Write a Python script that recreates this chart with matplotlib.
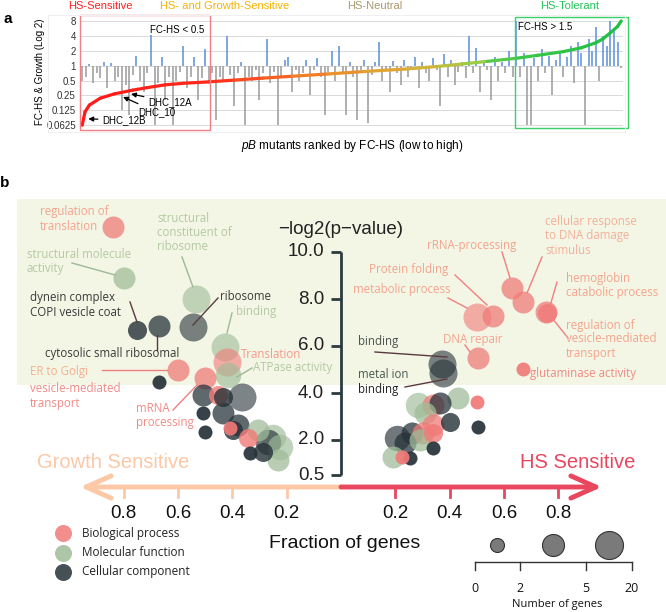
import numpy as np
import matplotlib
matplotlib.use('Agg')
import matplotlib.pyplot as plt
from matplotlib.collections import LineCollection
from matplotlib.colors import LinearSegmentedColormap
from matplotlib.patches import Rectangle
import matplotlib.transforms as mtransforms

plt.rcParams['font.family'] = ['Liberation Sans', 'DejaVu Sans']
plt.rcParams['mathtext.fontset'] = 'custom'
plt.rcParams['mathtext.it'] = 'Liberation Sans:italic'
plt.rcParams['mathtext.rm'] = 'Liberation Sans'

W, H = 666, 612

# ── panel a data: growth per ranked mutant (FC growth) and FC-HS curve ──
growth = [
    0.5, 0.6, 1.1, 0.45, 0.7, 0.55, 1.2, 0.35, 1.15, 0.5,
    0.6, 0.125, 0.4, 0.1, 0.65, 1.6, 0.5, 0.3, 0.7, 4.2,
    0.0625, 0.45, 1.5, 0.2, 0.6, 0.0625, 0.5, 0.75, 2.5, 0.35,
    0.6, 1.5, 0.2, 0.55, 2.2, 0.45, 0.7, 0.08, 0.6, 0.5,
    4.0, 0.65, 0.15, 0.7, 1.2, 0.0625, 0.6, 0.5, 0.8, 0.2,
    0.7, 3.5, 0.45, 0.75, 0.0625, 0.6, 1.3, 1.5, 0.3, 0.8,
    0.5, 0.7, 1.3, 0.25, 0.8, 1.4, 0.6, 0.1, 0.75, 2.0,
    0.5, 2.5, 0.7, 0.1, 1.2, 0.6, 0.08, 0.8, 1.3, 0.07,
    0.65, 1.2, 3.0, 0.5, 0.85, 0.3, 1.25, 0.7, 0.4, 1.3,
    0.6, 0.8, 1.5, 0.35, 1.2, 0.7, 0.5, 1.4, 0.8, 0.15,
    1.7, 0.6, 1.3, 0.4, 0.75, 1.2, 0.55, 4.0, 0.7, 2.3,
    0.3, 1.3, 0.8, 0.2, 1.5, 0.5, 1.2, 0.7, 2.0, 0.6,
    8.0, 0.6, 1.8, 0.0625, 0.0625, 1.4, 0.5, 2.2, 0.7, 1.6,
    0.25, 1.3, 2.0, 0.6, 1.5, 2.5, 0.45, 3.0, 1.8, 0.0625,
    3.5, 2.0, 6.0, 0.5, 4.0, 2.5, 8.0, 5.0, 3.0, 0.9,
]
curve_rank = [0, 0.8, 2, 5, 9, 14, 18, 23, 28, 35, 42, 50, 58, 68, 78, 90,
              98, 105, 112, 120, 126, 133, 138, 142, 144, 146, 148, 149]
curve_fc = [0.0625, 0.117, 0.16, 0.22, 0.27, 0.32, 0.36, 0.41, 0.44, 0.47,
            0.51, 0.56, 0.61, 0.68, 0.76, 0.86, 0.96, 1.08, 1.22, 1.41,
            1.62, 1.92, 2.3, 2.9, 3.5, 4.6, 6.2, 8.0]
fc_ticks = [0.0625, 0.125, 0.25, 0.5, 1, 2, 4, 8]
fc_ticklabels = ['0.0625', '0.125', '0.25', '0.5', '1', '2', '4', '8']
dhc_names = ['DHC_12B', 'DHC_10', 'DHC_12A']
dhc_rank = [1.7, 11.3, 13.5]
dhc_fc = [0.084, 0.233, 0.268]

# ── panel b data: GO terms (signed fraction: <0 growth, >0 HS) ──
go_cat = ['bio', 'mol', 'mol', 'cell', 'cell', 'cell', 'mol', 'bio', 'mol', 'bio',
          'cell', 'bio', 'cell', 'bio', 'cell', 'cell', 'cell', 'cell', 'cell', 'bio',
          'cell', 'cell', 'bio', 'mol', 'mol', 'cell', 'cell', 'mol', 'cell', 'mol',
          'bio', 'bio', 'bio', 'bio', 'bio', 'bio', 'bio', 'bio', 'cell', 'cell',
          'mol', 'mol', 'bio', 'cell', 'bio', 'mol', 'bio', 'cell', 'cell', 'cell',
          'cell', 'bio', 'bio', 'cell', 'mol', 'cell', 'cell', 'bio', 'mol']
go_frac = [-0.84, -0.80, -0.534, -0.545, -0.751, -0.67, -0.427, -0.42, -0.416, -0.60,
           -0.67, -0.50, -0.508, -0.453, -0.434, -0.364, -0.508, -0.434, -0.50, -0.408,
           -0.379, -0.397, -0.342, -0.305, -0.25, -0.269, -0.335, -0.232, -0.287, -0.225,
           0.629, 0.67, 0.754, 0.76, 0.50, 0.56, 0.505, 0.67, 0.372, 0.375,
           0.283, 0.43, 0.339, 0.364, 0.50, 0.309, 0.339, 0.40, 0.504, 0.206,
           0.261, 0.302, 0.339, 0.236, 0.191, 0.254, 0.339, 0.225, 0.29]
go_logp = [11.06, 8.89, 8.00, 6.81, 6.68, 6.85, 5.96, 5.32, 4.77, 4.98,
           4.47, 4.64, 3.91, 3.91, 3.83, 3.83, 3.15, 3.15, 2.34, 2.51,
           2.64, 2.43, 2.09, 2.43, 2.13, 1.91, 1.45, 1.15, 1.49, 1.70,
           8.47, 7.87, 7.45, 7.40, 7.23, 7.28, 5.49, 5.02, 5.23, 4.85,
           3.49, 3.79, 3.49, 3.57, 3.62, 3.15, 2.64, 2.77, 2.55, 2.09,
           2.30, 2.30, 2.30, 1.87, 1.28, 1.23, 1.66, 1.28, 2.00]
go_ngenes = [3, 3, 10, 10, 2, 3, 10, 10, 6, 3,
             1, 3, 3, 2, 2, 10, 1, 3, 1, 1,
             3, 2, 2, 3, 6, 6, 1, 3, 2, 6,
             3, 3, 3, 2, 10, 3, 3, 1, 10, 10,
             6, 3, 3, 3, 1, 3, 3, 2, 1, 6,
             3, 3, 2, 3, 3, 1, 1, 1, 3]
p_ticks = [0.5, 2, 4, 6, 8, 10]
frac_ticks = [0.2, 0.4, 0.6, 0.8]
legend_cats = ['Biological process', 'Molecular function', 'Cellular component']
size_legend_n = [1, 3, 10]
size_scale_labels = ['0', '2', '5', '20']

cat_color = {'bio': '#f07a78', 'mol': '#9fbc98', 'cell': '#263238'}


def radius_px(n):
    return np.interp(np.log(n), np.log([1, 3, 10]), [7, 11, 14])


fig = plt.figure(figsize=(W / 100, H / 100), dpi=100)

# ── Panel a ──
ax_a = fig.add_axes([80 / W, 1 - 130 / H, 543 / W, 115 / H])
ranks = np.arange(len(growth))
g = np.array(growth)
ax_a.vlines(ranks[g < 1], 1, g[g < 1], color='#9a9a9a', lw=1.1)
ax_a.vlines(ranks[g > 1], 1, g[g > 1], color='#5a90dd', lw=1.1)

cmap = LinearSegmentedColormap.from_list('fc', [
    (0, '#ff1a1a'), (0.24, '#ff2a1a'), (0.45, '#f08a2a'), (0.62, '#d8b038'),
    (0.72, '#a8cc40'), (0.8, '#3cc84a'), (1, '#1fbf3f')])
pts = np.column_stack([curve_rank, curve_fc])
segs = np.stack([pts[:-1], pts[1:]], axis=1)
mid = (np.array(curve_rank[:-1]) + np.array(curve_rank[1:])) / 2 / 149
lc = LineCollection(segs, colors=cmap(mid), lw=2.3, capstyle='round', zorder=4)
ax_a.add_collection(lc)

ax_a.set_yscale('log', base=2)
ax_a.set_ylim(2 ** -4.32, 2 ** 3.40)
ax_a.set_xlim(-0.6, 149.5)
ax_a.set_yticks(fc_ticks)
ax_a.set_yticklabels(fc_ticklabels, fontsize=7, color='#333')
ax_a.minorticks_off()
ax_a.set_xticks([])
ax_a.tick_params(axis='y', length=0, pad=3)
ax_a.yaxis.grid(True, color='#d9d9d9', lw=0.7)
ax_a.set_axisbelow(True)
for s in ax_a.spines.values():
    s.set_visible(False)

trans = mtransforms.blended_transform_factory(ax_a.transData, ax_a.transAxes)
ax_a.add_patch(Rectangle((-0.6, 0), 35.8, 1, transform=trans, fill=False,
                         ec='#f07f86', lw=1, clip_on=False, zorder=5))
ax_a.add_patch(Rectangle((119.6, 0.02), 31.3, 0.96, transform=trans, fill=False,
                         ec='#3ccf6a', lw=1, clip_on=False, zorder=5))
fig.patches.append(Rectangle((48 / W, 1 - 132 / H), 577 / W, 117 / H,
                             transform=fig.transFigure, fill=False,
                             ec='#efefef', lw=0.8))

for name, r, v, (tx, ty) in zip(dhc_names, dhc_rank, dhc_fc,
                               [(102, 120), (138, 112), (148, 102)]):
    ax_a.annotate(name, xy=(r, v), xycoords='data', xytext=(tx, H - ty),
                  textcoords='figure pixels', ha='left', va='center', fontsize=7,
                  arrowprops=dict(arrowstyle='-|>', color='black', lw=0.9,
                                  mutation_scale=7, shrinkA=1, shrinkB=0),
                  zorder=6)

fig.text(150 / W, 1 - 30 / H, 'FC-HS < 0.5', fontsize=7, va='center')
fig.text(518 / W, 1 - 27 / H, 'FC-HS > 1.5', fontsize=7, va='center')
for txt, x, c in [('HS-Sensitive', 100, '#ff2020'),
                  ('HS- and Growth-Sensitive', 225, '#f6b400'),
                  ('HS-Neutral', 375, '#a89a6c'),
                  ('HS-Tolerant', 570, '#22c55a')]:
    fig.text(x / W, 1 - 6 / H, txt, color=c, fontsize=8, ha='center', va='center')
fig.text(40 / W, 1 - 72 / H, 'FC-HS & Growth (Log 2)', rotation=90, fontsize=7,
         ha='center', va='center')
fig.text(352 / W, 1 - 146 / H, r'$\it{pB}$ mutants ranked by FC-HS (low to high)',
         fontsize=8.5, ha='center', va='center')
fig.text(8 / W, 1 - 19 / H, 'a', fontsize=11, fontweight='bold', ha='center', va='center')
fig.text(5 / W, 1 - 183 / H, 'b', fontsize=11, fontweight='bold', ha='center', va='center')

# ── Panel b ──
ax_b = fig.add_axes([0, 0, 1, 422 / H])
ax_b.set_xlim(-341 / 271.7, (666 - 341) / 271.7)
ax_b.set_ylim(2 + (440 - 612) / 23.5, 2 + (440 - 190) / 23.5)
ax_b.axis('off')


def bpx(x, y):
    return ((x - 341) / 271.7, 2 + (440 - y) / 23.5)


x0, y0 = bpx(17, 385)
ax_b.add_patch(Rectangle((x0, y0), (666 - 17) / 271.7, (385 - 199) / 23.5,
                         fc='#f3f5e5', ec='none', zorder=0))

# y axis
axc = '#2d3a40'
ax_b.plot([0, 0], [p_ticks[0], p_ticks[-1]], color=axc, lw=2, zorder=2,
          solid_capstyle='butt')
for t in p_ticks:
    ax_b.plot([-0.037, 0], [t, t], color=axc, lw=2, zorder=2, solid_capstyle='butt')
    ax_b.text(-0.062, t, f'{t:.1f}', ha='right', va='center', fontsize=13.5,
              color='#222')
ax_b.text(*bpx(341, 230), '\u2212log2(p\u2212value)', ha='center', va='center',
          fontsize=13.5, color='#222')

# bubbles
r = radius_px(np.array(go_ngenes))
order = np.argsort(-r, kind='stable')
for i in order:
    ax_b.scatter(go_frac[i], go_logp[i], s=(1.44 * r[i]) ** 2,
                 color=cat_color[go_cat[i]], alpha=np.interp(r[i], [7, 14], [0.92, 0.6]),
                 lw=0, zorder=3)

# labels
lab_font = ['Open Sans', 'DejaVu Sans']
pink_l, pink, green_l, dark = '#f4a48e', '#f08a84', '#b5c9a3', '#3a3a3a'
labels = [
    ('regulation of\ntranslation', 40, 219, pink_l),
    ('structural molecule\nactivity', 27, 261.5, green_l),
    ('structural\nconstituent of\nribosome', 157, 233, green_l),
    ('dynein complex\nCOPI vesicle coat', 30, 305, dark),
    ('ribosome', 220, 297, dark),
    ('binding', 236, 312, green_l),
    ('cytosolic small ribosomal', 45, 353, dark),
    ('Translation', 241, 354, '#f59a8a'),
    ('ATPase activity', 253, 368, green_l),
    ('ER to Golgi', 30, 371, '#f6b08f'),
    ('vesicle-mediated\ntransport', 30, 396, pink),
    ('mRNA\nprocessing', 136, 415.5, pink),
    ('cellular response\nto DNA damage\nstimulus', 545, 236, '#f4b09a'),
    ('rRNA-processing', 427, 245, pink_l),
    ('Protein folding', 369, 269, pink_l),
    ('metabolic process', 353, 290, pink_l),
    ('hemoglobin\ncatabolic process', 566, 285.5, pink_l),
    ('regulation of\nvesicle-mediated\ntransport', 566, 339, pink_l),
    ('DNA repair', 443, 339, pink_l),
    ('glutaminase activity', 530, 373, pink),
    ('binding', 358, 342, '#4a5250'),
    ('metal ion', 358, 374, '#4a5a50'),
    ('binding', 358, 390, '#222222'),
]
for txt, x, y, c in labels:
    ax_b.text(*bpx(x, y), txt, ha='left', va='center', fontsize=8.3, color=c,
              family=lab_font, linespacing=1.1, zorder=5)

gl, ml, sl = '#a0b898', '#5a3a40', '#f08080'
leaders = [
    ((72, 263), (115, 275), gl), ((182, 257), (193, 287), gl),
    ((130, 302), (137, 322), ml), ((218, 298), (193, 325), ml),
    ((232, 313), (227, 333), gl), ((157, 350), (157, 335), ml),
    ((252, 368), (237, 377), gl), ((102, 370), (167, 370), sl),
    ((173, 410), (197, 385), sl), ((542, 257), (527, 293), sl),
    ((502, 252), (510, 278), sl), ((455, 275), (487, 305), sl),
    ((448, 298), (467, 308), sl), ((557, 282), (548, 313), sl),
    ((548, 313), (568, 338), sl), ((465, 345), (470, 352), sl),
    ((375, 352), (447, 357), ml), ((405, 387), (447, 379), ml),
]
for p1, p2, c in leaders:
    a, b = bpx(*p1), bpx(*p2)
    ax_b.plot([a[0], b[0]], [a[1], b[1]], color=c, lw=1, zorder=4)

# double arrow (x axis)
peach, red = '#fcc8a6', '#e8475f'
for end, c in [(-0.96, peach), (0.96, red)]:
    ax_b.annotate('', xy=(end, 0), xytext=(0, 0),
                  arrowprops=dict(arrowstyle='->,head_length=0.9,head_width=0.4',
                                  mutation_scale=20, lw=3.5, color=c,
                                  shrinkA=0, shrinkB=0), zorder=2)
for t in frac_ticks:
    for sgn, c in [(-1, peach), (1, red)]:
        ax_b.plot([sgn * t, sgn * t], [0, -0.43], color=c, lw=2, zorder=2)
        ax_b.text(sgn * t, -1.11, f'{t:.1f}', ha='center', va='center',
                  fontsize=13.5, color='#111')
ax_b.text(*bpx(113.5, 463), 'Growth Sensitive', ha='center', va='center',
          fontsize=14.5, color=peach)
ax_b.text(*bpx(578, 463), 'HS Sensitive', ha='center', va='center',
          fontsize=14.5, color=red)
ax_b.text(*bpx(345, 543), 'Fraction of genes', ha='center', va='center',
          fontsize=14, color='#111')

# category legend
for k, (txt, cat) in enumerate(zip(legend_cats, ['bio', 'mol', 'cell'])):
    y = 533 + k * 19.5
    ax_b.scatter(*bpx(63, y), s=(1.44 * 8.5) ** 2, color=cat_color[cat],
                 alpha=0.85, lw=0, zorder=3)
    ax_b.text(*bpx(82, y), txt, ha='left', va='center', fontsize=8.5,
              color='#222', family=lab_font)

# size legend
for n, x in zip(size_legend_n, [497, 553, 609]):
    ax_b.scatter(*bpx(x, 545), s=(1.44 * radius_px(n)) ** 2, color='#7a7a7a',
                 ec='#333333', lw=0.8, zorder=3)
a, b = bpx(475, 562), bpx(632, 562)
ax_b.plot([a[0], b[0]], [a[1], b[1]], color='#333', lw=1)
for lbl, x in zip(size_scale_labels, [475, 520, 586, 632]):
    a, b = bpx(x, 562), bpx(x, 570)
    ax_b.plot([a[0], b[0]], [a[1], b[1]], color='#333', lw=1)
    ax_b.text(*bpx(x, 589), lbl, ha='center', va='center', fontsize=9,
              color='#111', family=lab_font)
ax_b.text(*bpx(557, 605), 'Number of genes', ha='center', va='center',
          fontsize=8, color='#111', family=lab_font)

fig.savefig('out.png', dpi=100)
